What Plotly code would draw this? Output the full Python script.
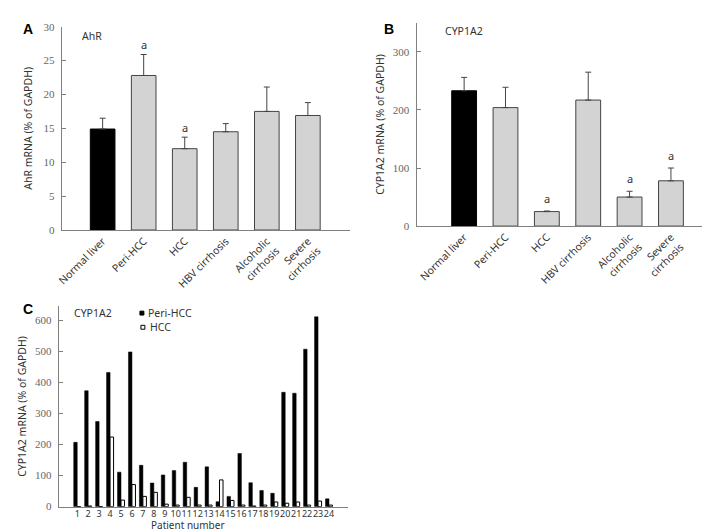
import plotly.graph_objects as go

# ---------------- data ----------------
groups = ["Normal liver", "Peri-HCC", "HCC", "HBV cirrhosis", "Alcoholic<br>cirrhosis", "Severe<br>cirrhosis"]

ahr_mean = [14.9, 22.8, 12.0, 14.5, 17.5, 16.9]
ahr_err = [1.6, 3.1, 1.7, 1.2, 3.6, 1.9]
ahr_sig = ["", "a", "a", "", "", ""]

cyp_mean = [233, 204, 25, 217, 50, 78]
cyp_err = [23, 35, 1, 48, 10, 22]
cyp_sig = ["", "", "a", "", "a", "a"]

patients = list(range(1, 25))
peri_hcc = [207, 373, 274, 432, 111, 498, 133, 76, 102, 116, 143, 62,
            128, 16, 33, 171, 77, 52, 43, 368, 365, 507, 611, 25]
hcc = [0, 2, 0, 224, 21, 71, 33, 46, 8, 5, 30, 5,
       5, 86, 20, 5, 2, 5, 15, 11, 15, 5, 18, 5]

# ---------------- style ----------------
W, H = 710, 532
SANS = "Noto Sans"
SERIF = "Liberation Serif"
AXIS_GREY = "#808080"
TEXT = "#333333"
TICK_GREY = "#666666"
BAR_GREY = "#d3d3d3"
EDGE = "#444444"

def px_x(p):
    return p / W

def px_y(p):
    return 1 - p / H

bar_colors = ["#000000"] + [BAR_GREY] * 5
edge_colors = ["#000000"] + [EDGE] * 5

fig = go.Figure()

# Panel A
fig.add_trace(go.Bar(
    x=groups, y=ahr_mean, width=0.6,
    marker=dict(color=bar_colors, line=dict(color=edge_colors, width=1)),
    error_y=dict(type="data", array=ahr_err, arrayminus=[0] * 6, symmetric=False,
                 color=EDGE, thickness=1, width=3),
    xaxis="x", yaxis="y", showlegend=False,
))
# Panel B
fig.add_trace(go.Bar(
    x=groups, y=cyp_mean, width=0.6,
    marker=dict(color=bar_colors, line=dict(color=edge_colors, width=1)),
    error_y=dict(type="data", array=cyp_err, arrayminus=[0] * 6, symmetric=False,
                 color=EDGE, thickness=1, width=3),
    xaxis="x2", yaxis="y2", showlegend=False,
))
# Panel C
fig.add_trace(go.Bar(
    x=patients, y=peri_hcc, width=0.32, offset=-0.32,
    marker=dict(color="#000000", line=dict(color="#000000", width=0.5)),
    xaxis="x3", yaxis="y3", showlegend=False, name="Peri-HCC",
))
fig.add_trace(go.Bar(
    x=patients, y=hcc, width=0.32, offset=0.0,
    marker=dict(color="#ffffff", line=dict(color="#000000", width=1)),
    xaxis="x3", yaxis="y3", showlegend=False, name="HCC",
))

annotations = []
# significance markers
for i, s in enumerate(ahr_sig):
    if s:
        annotations.append(dict(x=groups[i], y=ahr_mean[i] + ahr_err[i], xref="x", yref="y",
                                text=s, showarrow=False, yanchor="bottom", yshift=0,
                                font=dict(family=SANS, size=11, color=TEXT)))
for i, s in enumerate(cyp_sig):
    if s:
        annotations.append(dict(x=groups[i], y=cyp_mean[i] + cyp_err[i], xref="x2", yref="y2",
                                text=s, showarrow=False, yanchor="bottom", yshift=3,
                                font=dict(family=SANS, size=11, color=TEXT)))

def paper_text(x, y, text, size=11, bold=False, xanchor="left", color=TEXT, family=SANS,
               yanchor="middle"):
    annotations.append(dict(x=px_x(x), y=px_y(y), xref="paper", yref="paper",
                            text=f"<b>{text}</b>" if bold else text, showarrow=False,
                            xanchor=xanchor, yanchor=yanchor,
                            font=dict(family=family, size=size, color=color)))

# panel letters
paper_text(7, 15, "A", size=14, bold=True, color="#000000", family="Liberation Sans")
paper_text(371, 15, "B", size=14, bold=True, color="#000000", family="Liberation Sans")
paper_text(7, 302, "C", size=14, bold=True, color="#000000", family="Liberation Sans")
# inner titles
paper_text(67, 23, "AhR", size=10.5)
paper_text(433, 17, "CYP1A2", size=10.5)
paper_text(58, 306, "CYP1A2", size=10.5)
# legend text (C)
paper_text(133, 306, "Peri-HCC", size=10.5)
paper_text(135, 320, "HCC", size=10.5)
# x title of C
paper_text(175, 531.5, "Patient number", size=10, xanchor="center", yanchor="bottom")

shapes = [
    dict(type="rect", xref="paper", yref="paper",
         x0=px_x(127), x1=px_x(131), y0=px_y(308), y1=px_y(304),
         fillcolor="#000000", line=dict(color="#000000", width=1)),
    dict(type="rect", xref="paper", yref="paper",
         x0=px_x(128), x1=px_x(132), y0=px_y(322.5), y1=px_y(318.5),
         fillcolor="#ffffff", line=dict(color="#000000", width=1)),
]

common_y = dict(showgrid=False, zeroline=False, showline=True, linecolor=AXIS_GREY, linewidth=1,
                ticks="inside", ticklen=4, tickcolor=AXIS_GREY,
                tickfont=dict(family=SERIF, size=11, color=TICK_GREY),
                ticklabelstandoff=4,
                title_font=dict(family=SANS, size=10.5, color=TEXT))
common_x = dict(showgrid=False, zeroline=False, showline=True, linecolor=AXIS_GREY, linewidth=1,
                ticks="")

fig.update_layout(
    width=W, height=H,
    margin=dict(l=0, r=0, t=0, b=0),
    paper_bgcolor="white", plot_bgcolor="white",
    barmode="overlay",
    xaxis=dict(domain=[px_x(48), px_x(339)], range=[-1.0, 6.03], type="category",
               tickangle=-45, tickfont=dict(family=SANS, size=10.5, color=TEXT),
               anchor="y", **common_x),
    yaxis=dict(domain=[px_y(221), px_y(13)], range=[0, 30], dtick=5, anchor="x",
               title=dict(text="AhR mRNA (% of GAPDH)", standoff=8), **common_y),
    xaxis2=dict(domain=[px_x(406), px_x(703)], range=[-1.15, 5.97], type="category",
                tickangle=-45, tickfont=dict(family=SANS, size=10.5, color=TEXT),
                anchor="y2", **common_x),
    yaxis2=dict(domain=[px_y(217), px_y(9)], range=[0, 350], tickvals=[0, 100, 200, 300],
                anchor="x2",
                title=dict(text="CYP1A2 mRNA (% of GAPDH)", standoff=6), **common_y),
    xaxis3=dict(domain=[px_x(45), px_x(337)], range=[-0.7, 25.75],
                tickvals=patients, ticktext=[str(p) for p in patients], tickangle=0,
                tickfont=dict(family=SANS, size=9, color=TEXT), ticklabelstandoff=-1,
                anchor="y3", **common_x),
    yaxis3=dict(domain=[px_y(504), px_y(299)], range=[0, 645], dtick=100, anchor="x3",
                title=dict(text="CYP1A2 mRNA (% of GAPDH)", standoff=6), **common_y),
    annotations=annotations,
    shapes=shapes,
)

fig.write_html("out.html")
